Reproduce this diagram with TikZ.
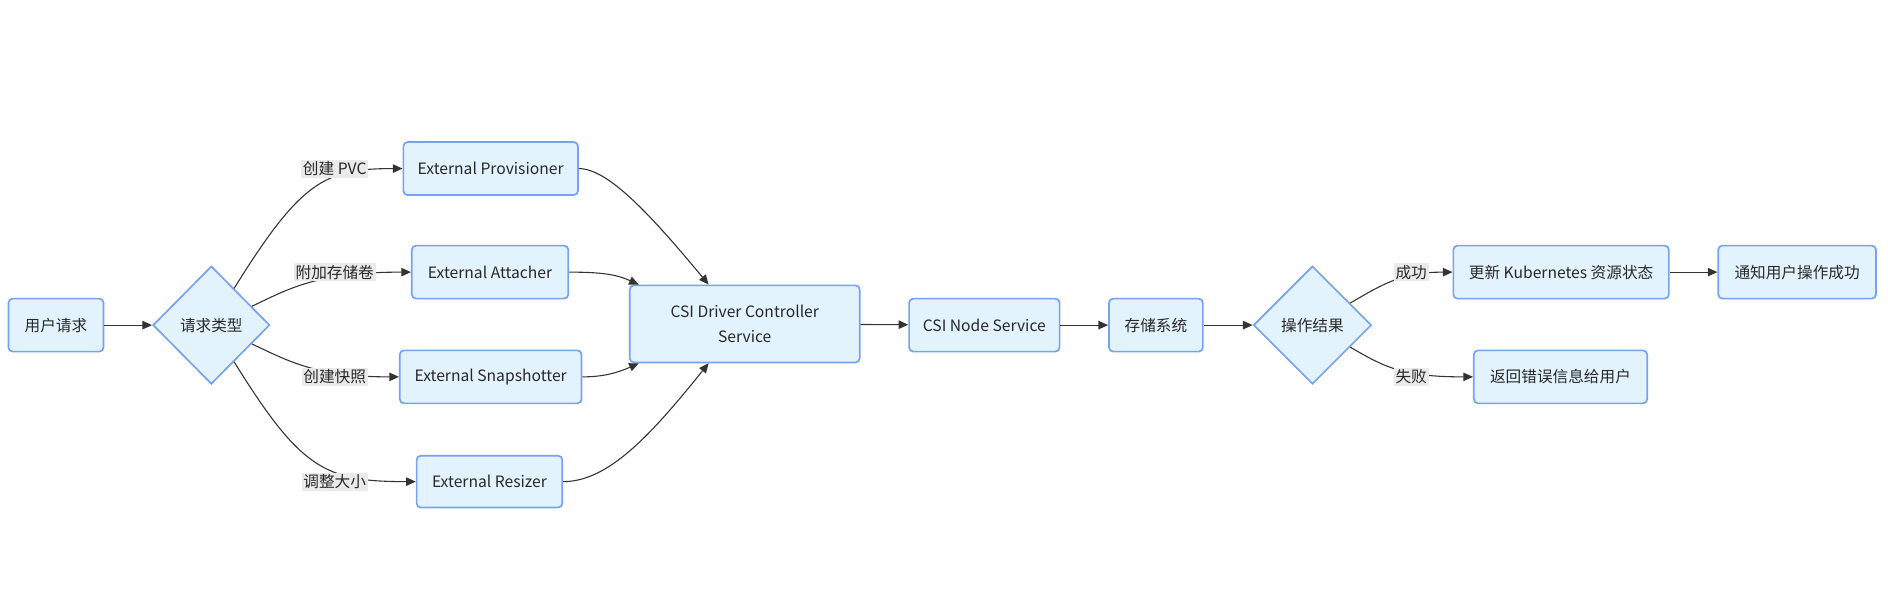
\documentclass[tikz,border=0pt]{standalone}
\usepackage{fontspec}
\setmainfont{Noto Sans CJK SC}
\usetikzlibrary{shapes.geometric,arrows.meta}
\definecolor{boxfill}{RGB}{227,243,253}
\definecolor{boxline}{RGB}{118,162,240}
\definecolor{edgecol}{RGB}{51,51,51}
\definecolor{lblfill}{RGB}{234,234,234}
\definecolor{txt}{RGB}{40,40,40}
\tikzset{
  box/.style={draw=boxline, fill=boxfill, line width=1.4pt, rounded corners=3.5pt,
    inner sep=0pt, minimum height=44pt, text=txt, font=\fontsize{13}{20}\selectfont, align=center},
  dia/.style={diamond, draw=boxline, fill=boxfill, line width=1.4pt, inner sep=0pt,
    minimum width=97pt, minimum height=98pt, text=txt, font=\fontsize{13}{16}\selectfont},
  edge/.style={draw=edgecol, line width=0.9pt, -{Triangle[length=8pt,width=7pt]}},
  lbl/.style={fill=lblfill, inner sep=1.5pt, text=txt, font=\fontsize{13}{16}\selectfont},
}
\begin{document}
\begin{tikzpicture}[x=1pt,y=-1pt]
\useasboundingbox (0,0) rectangle (1568,506);
% nodes
\node[box, minimum width=79pt] (req) at (46.5,270) {用户请求};
\node[dia] (d1) at (175.5,270) {请求类型};
\node[box, minimum width=145pt] (prov) at (407.5,140) {External Provisioner};
\node[box, minimum width=130pt] (att) at (407,226) {External Attacher};
\node[box, minimum width=151pt] (snap) at (407.5,313) {External Snapshotter};
\node[box, minimum width=121pt, minimum height=43pt] (res) at (406.5,400) {External Resizer};
\node[box, minimum width=191pt, minimum height=64pt] (csi) at (618.5,269) {CSI Driver Controller\\Service};
\node[box, minimum width=125pt] (nsvc) at (817.5,270) {CSI Node Service};
\node[box, minimum width=78pt] (stor) at (960,270) {存储系统};
\node[dia, minimum width=98pt] (d2) at (1090,270) {操作结果};
\node[box, minimum width=179pt] (upd) at (1296.5,226) {更新 Kubernetes 资源状态};
\node[box, minimum width=131pt] (notif) at (1492.5,226) {通知用户操作成功};
\node[box, minimum width=144pt] (ret) at (1296,313) {返回错误信息给用户};
% edges
\draw[edge] (req) -- (d1);
\draw[edge] (d1) .. controls (250,150) and (270,140) .. (prov.west);
\draw[edge] (d1) .. controls (240,240) and (262,226) .. (att.west);
\draw[edge] (d1) .. controls (240,300) and (262,313) .. (snap.west);
\draw[edge] (d1) .. controls (250,390) and (270,400) .. (res.west);
\draw[edge] (prov.east) .. controls (505,140) and (540,178) .. ([xshift=-30pt]csi.north);
\draw[edge] (att.east) .. controls (500,226) and (512,228) .. ([xshift=-88pt]csi.north);
\draw[edge] (snap.east) .. controls (500,313) and (512,310) .. ([xshift=-88pt]csi.south);
\draw[edge] (res.east) .. controls (505,400) and (540,362) .. ([xshift=-30pt]csi.south);
\draw[edge] (csi) -- (nsvc);
\draw[edge] (nsvc) -- (stor);
\draw[edge] (stor) -- (d2);
\draw[edge] (d2) .. controls (1150,235) and (1165,226) .. (upd.west);
\draw[edge] (d2) .. controls (1150,305) and (1165,313) .. (ret.west);
\draw[edge] (upd) -- (notif);
% labels
\node[lbl] (l1) at (278,140) {创建 PVC};
\node[lbl] (l2) at (278,226) {附加存储卷};
\node[lbl] (l3) at (278,313) {创建快照};
\node[lbl] (l4) at (278,400) {调整大小};
\node[lbl] (l5) at (1172,226) {成功};
\node[lbl] (l6) at (1172,313) {失败};
\end{tikzpicture}
\end{document}
